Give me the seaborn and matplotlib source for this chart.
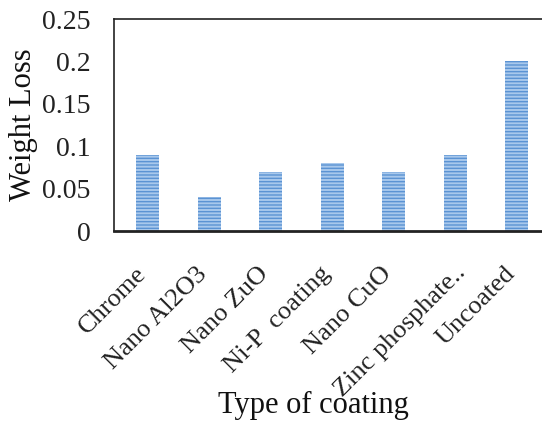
import matplotlib
matplotlib.use("Agg")
import matplotlib.pyplot as plt
import matplotlib.transforms as mtransforms
import seaborn as sns
import pandas as pd

coatings = ["Chrome", "Nano Al2O3", "Nano ZuO", "Ni-P  coating", "Nano CuO",
            "Zinc phosphate..", "Uncoated"]
weight_loss = [0.09, 0.04, 0.07, 0.08, 0.07, 0.09, 0.2]
y_ticks = [0, 0.05, 0.1, 0.15, 0.2, 0.25]
y_tick_labels = ["0", "0.05", "0.1", "0.15", "0.2", "0.25"]

sns.set_theme(style="white")
plt.rcParams["font.family"] = ["Liberation Serif", "DejaVu Serif"]
plt.rcParams["hatch.linewidth"] = 1.0

df = pd.DataFrame({"coating": coatings, "loss": weight_loss})

fig = plt.figure(figsize=(5.42, 4.26), dpi=100)
ax = fig.add_axes([114 / 542, 1 - 231 / 426, 1 - 114 / 542, (231 - 19) / 426])

sns.barplot(data=df, x="coating", y="loss", ax=ax, width=0.37, saturation=1,
            color="#a8c8ec", edgecolor="#5b93d3", linewidth=0, hatch="-----")

ax.set_xlim(-0.55, 6.41)
ax.set_ylim(0, 0.25)
ax.set_yticks(y_ticks)
ax.set_yticklabels(y_tick_labels)
ax.tick_params(axis="y", length=0, pad=17, labelsize=20, colors="#222222")
ax.tick_params(axis="x", length=0, pad=23, labelsize=19, colors="#222222")

# rotated category labels, nudged so their ends sit just left of each bar;
# the truncated label keeps the room of its full-length text
for lab in ax.get_xticklabels():
    dx, dy = (-1, 2) if lab.get_text().endswith("..") else (-13, 0)
    shift = mtransforms.ScaledTranslation(dx / 100, dy / 100, fig.dpi_scale_trans)
    lab.set_rotation(45)
    lab.set_ha("right")
    lab.set_va("top")
    lab.set_rotation_mode("anchor")
    lab.set_transform(lab.get_transform() + shift)

ax.set_xlabel("Type of coating", fontsize=22, color="#111111")
ax.set_ylabel("Weight Loss", fontsize=22, color="#111111")
ax.xaxis.set_label_coords((313 - 114) / 428, -(391 - 231) / 212)
ax.yaxis.set_label_coords(-(114 - 38) / 428, 0.5)

for side in ("left", "top"):
    ax.spines[side].set_color("#222222")
    ax.spines[side].set_linewidth(1.2)
ax.spines["bottom"].set_color("#222222")
ax.spines["bottom"].set_linewidth(2.0)
ax.spines["right"].set_visible(False)

fig.savefig("out.png", dpi=100)
